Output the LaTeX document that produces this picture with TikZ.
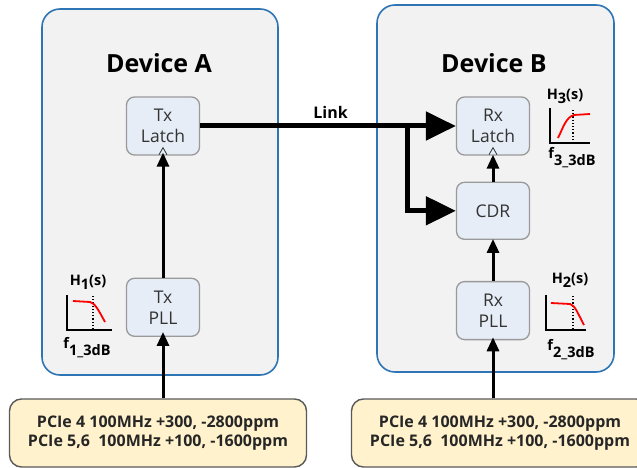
\documentclass[tikz,border=0pt]{standalone}
\usepackage{fontspec}
\setmainfont{Open Sans}
\usepackage{xcolor}
\usetikzlibrary{arrows.meta,positioning,calc}
\definecolor{devfill}{HTML}{F2F2F2}
\definecolor{devline}{HTML}{2E75B6}
\definecolor{blkfill}{HTML}{E6EDF7}
\definecolor{blkline}{HTML}{9A9A9A}
\definecolor{srcfill}{HTML}{FFF2CC}
\definecolor{srcline}{HTML}{595959}
\definecolor{txtgray}{HTML}{333333}
\tikzset{
  device/.style={
    rectangle,
    rounded corners=18pt,
    draw=devline,
    fill=devfill,
    line width=1.6pt
  },
  blk/.style={
    rectangle,
    rounded corners=8pt,
    draw=blkline,
    fill=blkfill,
    line width=1.3pt,
    align=center,
    minimum width=73pt,
    minimum height=58pt,
    text=txtgray,
    font=\fontsize{17.5}{21}\selectfont
  },
  src/.style={
    rectangle,
    rounded corners=12pt,
    draw=srcline,
    fill=srcfill,
    line width=1.4pt,
    align=center,
    minimum width=297pt,
    minimum height=68pt,
    text=black!85,
    font=\bfseries\fontsize{16}{19}\selectfont
  },
  title/.style={font=\bfseries\fontsize{25}{30}\selectfont},
  lbl/.style={font=\bfseries\fontsize{14.5}{16}\selectfont, inner sep=1pt},
  linkarrow/.style={-{Triangle[length=30pt,width=28pt]}, line width=5pt},
  clkarrow/.style={-{Triangle[length=14pt,width=12pt]}, line width=3pt},
  clk/.style={draw=txtgray, line width=0.8pt},
  axis/.style={line width=1.6pt},
  resp/.style={red, line width=1.8pt},
  cutoff/.style={dotted, line width=1.2pt}
}

\begin{document}
\begin{tikzpicture}[x=1pt, y=-1pt]
  \useasboundingbox (0,0) rectangle (637,468);
  \clip (0,0) rectangle (637,468);

  % devices
  \node[device, minimum width=236pt, minimum height=366pt] (devA) at (160,192) {};
  \node[device, minimum width=237pt, minimum height=367pt] (devB) at (495.5,188.5) {};
  \node[title] (titleA) at (159,63) {Device A};
  \node[title] (titleB) at (494,63) {Device B};

  % blocks
  \node[blk] (txlatch) at (163,126) {Tx\\Latch};
  \node[blk, below=122pt of txlatch] (txpll) {Tx\\PLL};
  \node[blk] (rxlatch) at (493,126) {Rx\\Latch};
  \node[blk, below=26pt of rxlatch, minimum height=57pt] (cdr) {CDR};
  \node[blk, below=41pt of cdr] (rxpll) {Rx\\PLL};

  % reference clocks
  \node[src] (refA) at (158,433) {PCIe 4 100MHz +300, -2800ppm\\PCIe 5,6\ \ 100MHz +100, -1600ppm};
  \node[src] (refB) at (500,433) {PCIe 4 100MHz +300, -2800ppm\\PCIe 5,6\ \ 100MHz +100, -1600ppm};

  % clock inputs of the latches
  \draw[clk] ($(txlatch.south)+(-4,-1)$) -- ($(txlatch.south)+(0,-8)$) -- ($(txlatch.south)+(4,-1)$);
  \draw[clk] ($(rxlatch.south)+(-4,-1)$) -- ($(rxlatch.south)+(0,-8)$) -- ($(rxlatch.south)+(4,-1)$);

  % link
  \coordinate (split) at (407,126);
  \draw[linkarrow] (txlatch.east) -- node[lbl, font=\bfseries\fontsize{16}{18}\selectfont, above=4pt, pos=0.51] (linklbl) {Link} (rxlatch.west);
  \draw[linkarrow] (split) |- (cdr.west);

  % clock paths
  \draw[clkarrow, shorten >=-3pt] (txpll) -- (txlatch);
  \draw[clkarrow, shorten >=-5pt] (refA.north -| txpll) -- (txpll);
  \draw[clkarrow, shorten >=-1pt] (cdr) -- (rxlatch);
  \draw[clkarrow, shorten >=-1pt] (rxpll) -- (cdr);
  \draw[clkarrow, shorten >=-3pt] (refB.north -| rxpll) -- (rxpll);

  % H1 low pass
  \node[lbl] (h1) at (88,282) {H\raisebox{-4pt}{1}(s)};
  \draw[axis] (67,295) -- (67,330) -- (112,330);
  \draw[cutoff] (93,296) -- (93,329);
  \draw[resp] (73,301) -- (90,302) .. controls (95,303) and (99,311) .. (105,322);
  \node[lbl] (f1) at (87,348) {f\raisebox{-7pt}{1\_3dB}};

  % H2 low pass
  \node[lbl] (h2) at (570,280) {H\raisebox{-4pt}{2}(s)};
  \draw[axis] (546,295) -- (546,330) -- (586,330);
  \draw[cutoff] (573,296) -- (573,329);
  \draw[resp] (551,303) -- (570,304) .. controls (575,305) and (578,314) .. (584,325);
  \node[lbl] (f2) at (571,350) {f\raisebox{-7pt}{2\_3dB}};

  % H3 high pass
  \node[lbl] (h3) at (565,96) {H\raisebox{-4pt}{3}(s)};
  \draw[axis] (550,108) -- (550,143) -- (590,143);
  \draw[cutoff] (573,110) -- (573,142);
  \draw[resp] (558,138) .. controls (563,128) and (566,117) .. (574,115) -- (590,114);
  \node[lbl] (f3) at (572,158) {f\raisebox{-7pt}{3\_3dB}};
\end{tikzpicture}
\end{document}
